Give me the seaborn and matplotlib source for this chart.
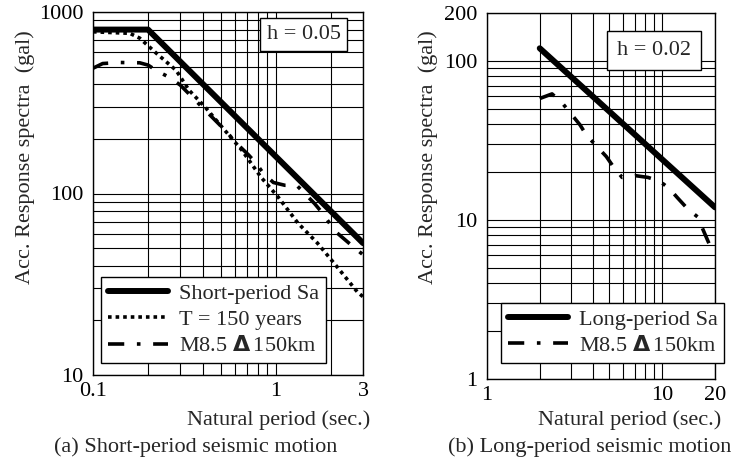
import numpy as np
import matplotlib
matplotlib.use("Agg")
import matplotlib.pyplot as plt
import seaborn as sns
import pandas as pd

# (a) short-period spectra, h = 0.05
short_T = [0.1, 0.2, 3.0]
short_Sa = [800, 800, 53.3]
t150_T = [0.1, 0.159, 0.18, 0.222, 0.285, 0.335, 0.41, 0.487, 0.65, 0.83,
          1.03, 1.32, 1.69, 2.17, 2.8, 3.0]
t150_Sa = [778, 763, 718, 593, 477, 371, 300, 244, 174, 123,
           95.6, 68.8, 53.3, 39.3, 28.6, 27]
m85s_T = [0.1, 0.113, 0.14, 0.18, 0.2, 0.225, 0.26, 0.3, 0.54, 0.6, 0.71,
          0.78, 0.85, 0.97, 1.12, 1.3, 1.63, 1.8, 2.0, 2.17, 2.53, 3.0]
m85s_Sa = [490, 520, 527, 525, 510, 472, 438, 396, 218, 192, 163,
           147, 130, 115, 111, 111, 88, 78, 67, 60.5, 53, 46]

# (b) long-period spectra, h = 0.02
long_T = [2.0, 20.0]
long_Sa = [120, 12]
m85l_T = [2.0, 2.35, 2.7, 3.4, 3.7, 4.8, 5.2, 5.9, 7.0, 8.3, 9.7, 11,
          12.2, 14, 16, 17, 18.6, 20]
m85l_Sa = [58, 62, 54, 39.5, 34, 25, 22, 18.5, 19, 18.5, 17.5, 15.7,
           13.8, 11.7, 10.4, 8.8, 7.0, 6.1]

m85_label = r"M8.5 $\mathbf{\Delta}\,$150km"

sns.set_theme(style="white")
plt.rcParams['font.family'] = ['Liberation Serif', 'DejaVu Serif']
plt.rcParams['mathtext.fontset'] = 'dejavusans'
FS = 16

fig = plt.figure(figsize=(7.31, 4.62), dpi=100)
ax1 = fig.add_axes([93 / 731, 1 - 375 / 462, 270 / 731, 363 / 462])
ax2 = fig.add_axes([487 / 731, 1 - 379 / 462, 228 / 731, 366 / 462])

solid = dict(color='black', lw=4.3, linestyle='-')
dotted = dict(color='black', lw=2.6, linestyle=(0, (1, 1.1)))
dashdot = dict(color='black', lw=2.6, linestyle=(0, (4.5, 3.5, 1, 3.5)))

sns.lineplot(x=short_T, y=short_Sa, ax=ax1, label='Short-period Sa', **solid)
sns.lineplot(x=t150_T, y=t150_Sa, ax=ax1, label='T = 150 years', **dotted)
sns.lineplot(x=m85s_T, y=m85s_Sa, ax=ax1, label=m85_label, **dashdot)

sns.lineplot(x=long_T, y=long_Sa, ax=ax2, label='Long-period Sa', **solid)
sns.lineplot(x=m85l_T, y=m85l_Sa, ax=ax2, label=m85_label, **dashdot)


def style_axes(ax, xlim, ylim, xmajor, xlabels, ymajor, ylabels, xminor, yminor):
    ax.set_xscale('log')
    ax.set_yscale('log')
    ax.set_xlim(*xlim)
    ax.set_ylim(*ylim)
    ax.set_xticks(xmajor, xlabels)
    ax.set_yticks(ymajor, ylabels)
    ax.set_xticks(xminor, minor=True)
    ax.set_yticks(yminor, minor=True)
    ax.set_xticklabels([], minor=True)
    ax.set_yticklabels([], minor=True)
    ax.tick_params(which='both', length=0, labelsize=FS, colors='black')
    ax.tick_params(axis='x', pad=5)
    ax.tick_params(axis='y', pad=7)
    ax.grid(True, which='both', color='black', lw=0.8)
    ax.set_axisbelow(True)
    for s in ax.spines.values():
        s.set_color('black')
        s.set_linewidth(1.0)
    ax.set_xlabel('')
    ax.set_ylabel('')


style_axes(ax1, (0.1, 3), (10, 1000), [0.1, 1, 3], ['0.1', '1', '3'],
           [10, 100, 1000], ['10', '100', '1000'],
           [0.2, 0.3, 0.4, 0.5, 0.6, 0.7, 0.8, 0.9, 2],
           [20, 30, 40, 50, 60, 70, 80, 90, 200, 300, 400, 500, 600, 700, 800, 900])
style_axes(ax2, (1, 20), (1, 200), [1, 10, 20], ['1', '10', '20'],
           [1, 10, 100, 200], ['1', '10', '100', '200'],
           [2, 3, 4, 5, 6, 7, 8, 9],
           [2, 3, 4, 5, 6, 7, 8, 9, 20, 30, 40, 50, 60, 70, 80, 90])

for ax, anchor in [(ax1, (0.03, 0.033)), (ax2, (0.061, 0.044))]:
    leg = ax.legend(loc='lower left', bbox_to_anchor=anchor, borderaxespad=0,
                    fontsize=FS, handlelength=2.7, handletextpad=0.5,
                    labelspacing=0.25, borderpad=0.3, fancybox=False,
                    framealpha=1, edgecolor='black')
    leg.get_frame().set_linewidth(1.0)
    leg.set_zorder(5)

box = dict(boxstyle='square,pad=0.3', fc='white', ec='black', lw=1.0)
ax1.text(0.78, 0.938, 'h = 0.05', transform=ax1.transAxes, ha='center',
         va='center', fontsize=FS, bbox=box, zorder=6)
box2 = dict(boxstyle='square,pad=0.45', fc='white', ec='black', lw=1.0)
ax2.text(0.732, 0.8975, 'h = 0.02', transform=ax2.transAxes, ha='center',
         va='center', fontsize=FS, bbox=box2, zorder=6)

ylab = 'Acc. Response spectra  (gal)'
fig.text(25 / 731, 1 - 157 / 462, ylab, rotation=90, ha='center', va='center', fontsize=FS)
fig.text(428 / 731, 1 - 157 / 462, ylab, rotation=90, ha='center', va='center', fontsize=FS)

fig.text(370 / 731, 1 - 420 / 462, 'Natural period (sec.)', ha='right', va='center', fontsize=FS)
fig.text(721 / 731, 1 - 420 / 462, 'Natural period (sec.)', ha='right', va='center', fontsize=FS)

fig.text(196 / 731, 1 - 447 / 462, '(a) Short-period seismic motion', ha='center', va='center', fontsize=FS)
fig.text(590 / 731, 1 - 447 / 462, '(b) Long-period seismic motion', ha='center', va='center', fontsize=FS)

fig.savefig('out.png', dpi=100, facecolor='white')
